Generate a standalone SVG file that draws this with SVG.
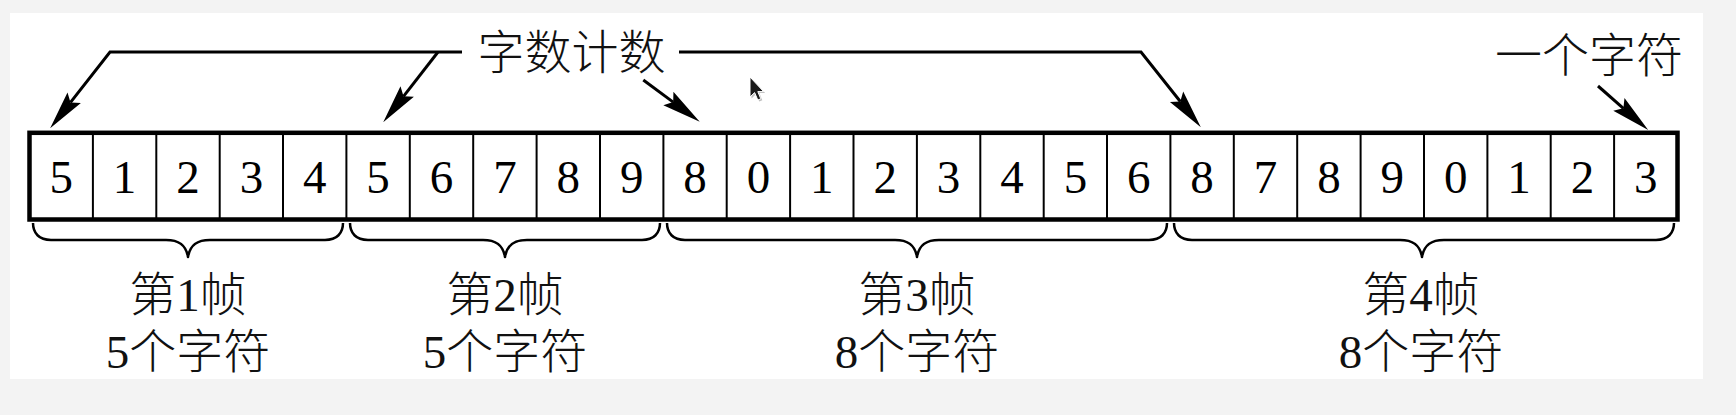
<svg xmlns="http://www.w3.org/2000/svg" width="1736" height="415" viewBox="0 0 1736 415">
<style>
.frame{fill:none;stroke:#000;stroke-width:4.5}
.div{stroke:#000;stroke-width:2}
.dig{font-family:"Liberation Serif","Times New Roman",serif;font-size:47px;fill:#000;text-anchor:middle}
.lbl{font-family:"Liberation Serif","Noto Sans CJK SC",serif;font-size:47px;font-weight:300;fill:#111;text-anchor:middle}
.brace{fill:none;stroke:#000;stroke-width:2.5;stroke-linejoin:round}
.conn{fill:none;stroke:#000;stroke-width:3;stroke-linejoin:miter}
</style>
<defs>
<marker id="ah" markerUnits="userSpaceOnUse" markerWidth="44" markerHeight="22" viewBox="-1 -11 44 22" refX="6" refY="0" orient="auto" overflow="visible">
<path d="M0,-8.5 L39,0 L0,8.5 L6,0 Z" fill="#000"/>
</marker>
</defs>
<rect x="0" y="0" width="1736" height="415" fill="#f3f3f3"/>
<rect x="10" y="13" width="1693" height="366" fill="#fff"/>

<g id="cells">
<rect class="frame" x="29.5" y="132.8" width="1648" height="86.7"/>
<g class="div">
<line x1="92.9" y1="133" x2="92.9" y2="219.5"/>
<line x1="156.3" y1="133" x2="156.3" y2="219.5"/>
<line x1="219.7" y1="133" x2="219.7" y2="219.5"/>
<line x1="283" y1="133" x2="283" y2="219.5"/>
<line x1="346.4" y1="133" x2="346.4" y2="219.5"/>
<line x1="409.8" y1="133" x2="409.8" y2="219.5"/>
<line x1="473.2" y1="133" x2="473.2" y2="219.5"/>
<line x1="536.6" y1="133" x2="536.6" y2="219.5"/>
<line x1="600" y1="133" x2="600" y2="219.5"/>
<line x1="663.4" y1="133" x2="663.4" y2="219.5"/>
<line x1="726.7" y1="133" x2="726.7" y2="219.5"/>
<line x1="790.1" y1="133" x2="790.1" y2="219.5"/>
<line x1="853.5" y1="133" x2="853.5" y2="219.5"/>
<line x1="916.9" y1="133" x2="916.9" y2="219.5"/>
<line x1="980.3" y1="133" x2="980.3" y2="219.5"/>
<line x1="1043.7" y1="133" x2="1043.7" y2="219.5"/>
<line x1="1107" y1="133" x2="1107" y2="219.5"/>
<line x1="1170.4" y1="133" x2="1170.4" y2="219.5"/>
<line x1="1233.8" y1="133" x2="1233.8" y2="219.5"/>
<line x1="1297.2" y1="133" x2="1297.2" y2="219.5"/>
<line x1="1360.6" y1="133" x2="1360.6" y2="219.5"/>
<line x1="1424" y1="133" x2="1424" y2="219.5"/>
<line x1="1487.4" y1="133" x2="1487.4" y2="219.5"/>
<line x1="1550.7" y1="133" x2="1550.7" y2="219.5"/>
<line x1="1614.1" y1="133" x2="1614.1" y2="219.5"/>
</g>
<g class="dig">
<text x="61.2" y="193">5</text>
<text x="124.6" y="193">1</text>
<text x="188" y="193">2</text>
<text x="251.4" y="193">3</text>
<text x="314.7" y="193">4</text>
<text x="378.1" y="193">5</text>
<text x="441.5" y="193">6</text>
<text x="504.9" y="193">7</text>
<text x="568.3" y="193">8</text>
<text x="631.7" y="193">9</text>
<text x="695" y="193">8</text>
<text x="758.4" y="193">0</text>
<text x="821.8" y="193">1</text>
<text x="885.2" y="193">2</text>
<text x="948.6" y="193">3</text>
<text x="1012" y="193">4</text>
<text x="1075.4" y="193">5</text>
<text x="1138.7" y="193">6</text>
<text x="1202.1" y="193">8</text>
<text x="1265.5" y="193">7</text>
<text x="1328.9" y="193">8</text>
<text x="1392.3" y="193">9</text>
<text x="1455.7" y="193">0</text>
<text x="1519" y="193">1</text>
<text x="1582.4" y="193">2</text>
<text x="1645.8" y="193">3</text>
</g>
</g>

<g id="frame1">
<path class="brace" d="M33,223 C33,233 39,240 51,240 L166,240 C178,240 186,244 188,257 C190,244 198,240 210,240 L325,240 C337,240 343,233 343,223"/>
<text class="lbl" x="188" y="311">第1帧</text>
<text class="lbl" x="188" y="368">5个字符</text>
</g>
<g id="frame2">
<path class="brace" d="M350,223 C350,233 356,240 368,240 L483,240 C495,240 503,244 505,257 C507,244 515,240 527,240 L642,240 C654,240 660,233 660,223"/>
<text class="lbl" x="505" y="311">第2帧</text>
<text class="lbl" x="505" y="368">5个字符</text>
</g>
<g id="frame3">
<path class="brace" d="M667,223 C667,233 673,240 685,240 L895,240 C907,240 915,244 917,257 C919,244 927,240 939,240 L1149,240 C1161,240 1167,233 1167,223"/>
<text class="lbl" x="917" y="311">第3帧</text>
<text class="lbl" x="917" y="368">8个字符</text>
</g>
<g id="frame4">
<path class="brace" d="M1174,223 C1174,233 1180,240 1192,240 L1400,240 C1412,240 1420,244 1422,257 C1424,244 1432,240 1444,240 L1656,240 C1668,240 1674,233 1674,223"/>
<text class="lbl" x="1421" y="311">第4帧</text>
<text class="lbl" x="1421" y="368">8个字符</text>
</g>

<g id="label-count">
<text class="lbl" x="571.5" y="69">字数计数</text>
</g>
<g id="label-char">
<text class="lbl" x="1589" y="71.5">一个字符</text>
</g>

<g id="connectors">
<polyline class="conn" points="462,52 110,52 70.5,102.4" marker-end="url(#ah)"/>
<line class="conn" x1="438" y1="52" x2="403.5" y2="96.3" marker-end="url(#ah)"/>
<line class="conn" x1="643.3" y1="80" x2="673.2" y2="102.1" marker-end="url(#ah)"/>
<polyline class="conn" points="679,52 1141,52 1180.3,101.5" marker-end="url(#ah)"/>
<line class="conn" x1="1598" y1="86" x2="1623.4" y2="108.3" marker-end="url(#ah)"/>
</g>

<g id="cursor">
<path d="M751.5,78.5 L751.5,98.5 L756.1,94.1 L759.3,101.5 L762.3,100.3 L759.3,93.1 L765.1,93.1 Z" fill="#000" opacity="0.25"/>
<path d="M750,77 L750,97 L754.6,92.6 L757.8,100 L760.8,98.8 L757.8,91.6 L763.6,91.6 Z" fill="#1a1a1a" stroke="#fff" stroke-width="1"/>
</g>
</svg>
